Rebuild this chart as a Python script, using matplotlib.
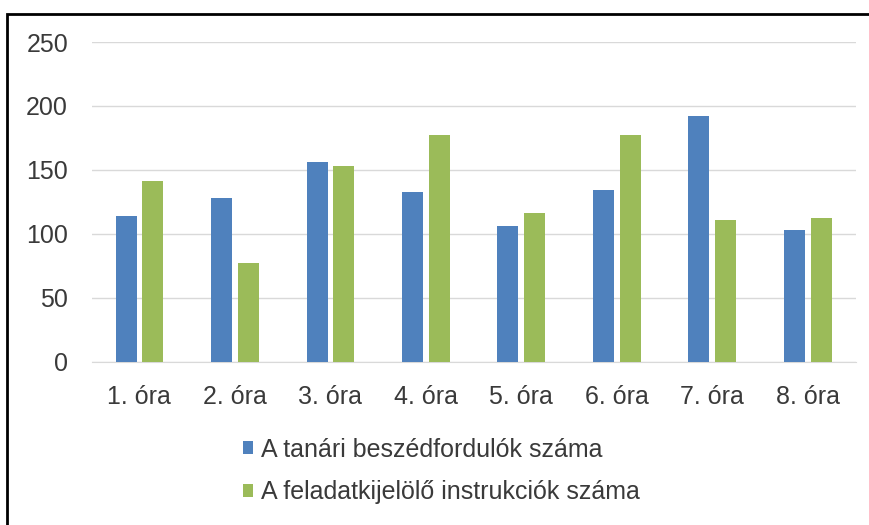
import matplotlib.pyplot as plt
from matplotlib.patches import Rectangle
import numpy as np

plt.rcParams['font.family'] = ['Liberation Sans', 'DejaVu Sans']

lessons = ['1. óra', '2. óra', '3. óra', '4. óra', '5. óra', '6. óra', '7. óra', '8. óra']
turns = [114, 128, 156, 133, 106, 134, 192, 103]
instructions = [141, 77, 153, 177, 116, 177, 111, 112]
series_names = ['A tanári beszédfordulók száma', 'A feladatkijelölő instrukciók száma']

blue = '#4F81BD'
green = '#9BBB59'
txt = '#3A3A3A'

fig = plt.figure(figsize=(8.69, 5.25), dpi=100)
ax = fig.add_axes([0.1055, 0.311, 0.879, 0.609])

x = np.arange(len(lessons))
w = 0.22
b1 = ax.bar(x - 0.14, turns, w, color=blue, label=series_names[0], zorder=3)
b2 = ax.bar(x + 0.14, instructions, w, color=green, label=series_names[1], zorder=3)

ax.set_xlim(-0.5, len(lessons) - 0.5)
ax.set_ylim(0, 250)
ax.set_yticks(range(0, 251, 50))
ax.set_xticks(x)
ax.set_xticklabels(lessons)
ax.grid(axis='y', color='#D9D9D9', linewidth=1, zorder=0)
for s in ['top', 'right', 'left']:
    ax.spines[s].set_visible(False)
ax.spines['bottom'].set_color('#D9D9D9')
ax.tick_params(axis='both', length=0, labelsize=18, colors=txt)
ax.tick_params(axis='y', pad=17)
ax.tick_params(axis='x', pad=17)

fig.legend(handles=[b1, b2], loc='center', bbox_to_anchor=(441 / 869, 1 - 471 / 525),
           frameon=False, fontsize=18, labelcolor=txt, handlelength=0.42, handleheight=0.42,
           handletextpad=0.3, labelspacing=0.75)

# outer frame (cropped at right and bottom)
fig.patches.append(Rectangle((7 / 869, -0.05), 1.1, 1.05 - 14 / 525, transform=fig.transFigure,
                             fill=False, edgecolor='black', linewidth=2, clip_on=False))

fig.savefig('out.png', dpi=100)
